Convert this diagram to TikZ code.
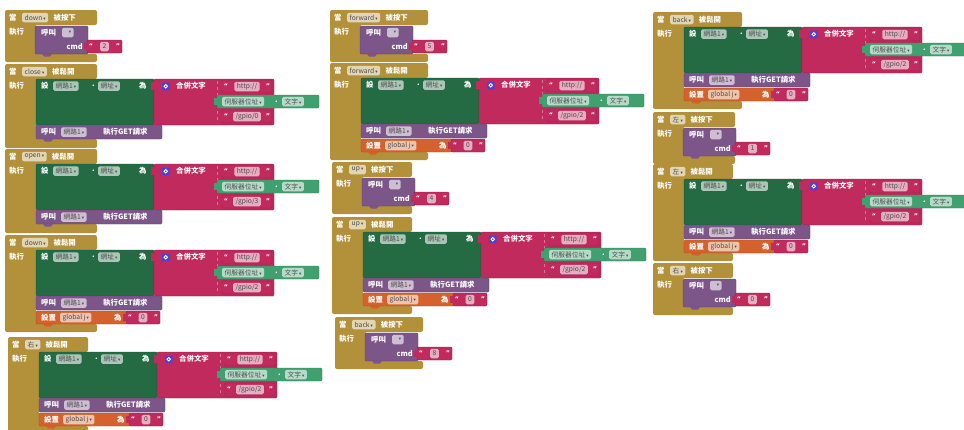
\documentclass[tikz,border=0pt]{standalone}
\usepackage{fontspec}
\setmainfont{Noto Sans CJK TC}
\newfontfamily\symfont{DejaVu Sans}

\definecolor{evgold}{HTML}{B3913A}
\definecolor{callpurple}{HTML}{7C5589}
\definecolor{setgreen}{HTML}{246A43}
\definecolor{getgreen}{HTML}{41A06F}
\definecolor{txtpink}{HTML}{C02A5C}
\definecolor{varorange}{HTML}{D5622C}
\definecolor{gearblue}{HTML}{4F3FD6}

\tikzset{
  blk/.style={fill=#1, draw=#1!78!black, line width=0.3pt, rounded corners=1.2pt},
  lbl/.style={text=white, font=\fontsize{7.4}{8}\selectfont\bfseries, inner sep=0pt, anchor=west},
  ddnode/.style={fill=white, fill opacity=0.62, text opacity=1, text=black!70,
     font=\fontsize{6.7}{7}\selectfont, inner xsep=2.5pt, inner ysep=0pt, minimum height=9.5pt,
     rounded corners=1.5pt, anchor=west},
  quote/.style={text=white, font=\symfont\fontsize{6.5}{7}\selectfont\bfseries, inner sep=0pt},
}

\newcommand{\arrowdn}{\,{\symfont\fontsize{4.5}{5}\selectfont ▾}}
% dropdown field: name, x, y (centre line), text
\newcommand{\dropfield}[4]{\node[ddnode] (#1) at (#2,#3) {#4\arrowdn};}
% text literal: name, x, y (top), width, text
\newcommand{\textlit}[5]{%
  \fill[blk=txtpink] (#2,#3) rectangle ++(#4,13);
  \fill[txtpink] ({#2-3},{#3+3}) rectangle ++(4,7);
  \node[quote] (#1-l) at ({#2+4},{#3+6.5}) {“};
  \node[quote] (#1-r) at ({#2+#4-4},{#3+6.5}) {”};
  \node[ddnode, anchor=center, minimum height=9.5pt] (#1) at ({#2+#4/2},{#3+6.5}) {#5};}
% connector tab under a statement block: x, y (bottom), colour
\newcommand{\stmttab}[3]{\fill[#3] ({#1+7},#2) -- ++(2,2.5) -- ++(6,0) -- ++(2,-2.5) -- cycle;}

% "pressed" handler: name, x, y, gold width, button, cmd value
\newcommand{\pressblk}[6]{%
\begin{scope}[shift={(#2,#3)}]
  \fill[evgold, rounded corners=2pt] (0,0) -- (#4,0) -- (#4,15) -- (30,15) -- (30,44)
     -- (#4,44) -- (#4,52) -- (0,52) -- cycle;
  \node[lbl] (#1-when) at (4,7.5) {當};
  \dropfield{#1-btn}{17}{7.5}{#5}
  \node[lbl, xshift=5pt] (#1-ev) at (#1-btn.east) {被按下};
  \node[lbl] (#1-do) at (4,22) {執行};
  \fill[blk=callpurple] (30,16) rectangle (83,44);
  \stmttab{30}{44}{callpurple}
  \node[lbl] (#1-call) at (36,22.5) {呼叫};
  \dropfield{#1-proc}{57}{22.5}{\hspace{3pt}}
  \node[lbl, anchor=east] (#1-arg) at (78,37) {cmd};
  \textlit{#1-val}{82}{30}{35}{#6}
\end{scope}}

% "released" handler: name, x, y, gold width, button, gpio path, with-variable flag
\newcommand{\relblk}[7]{%
\begin{scope}[shift={(#2,#3)}]
  \ifnum#7=1
    \fill[evgold, rounded corners=2pt] (0,0) -- (#4,0) -- (#4,15) -- (31,15) -- (31,89)
       -- (#4,89) -- (#4,97) -- (0,97) -- cycle;
  \else
    \fill[evgold, rounded corners=2pt] (0,0) -- (#4,0) -- (#4,15) -- (31,15) -- (31,75)
       -- (#4,75) -- (#4,84) -- (0,84) -- cycle;
  \fi
  \node[lbl] (#1-when) at (4,7.5) {當};
  \dropfield{#1-btn}{17}{7.5}{#5}
  \node[lbl, xshift=5pt] (#1-ev) at (#1-btn.east) {被鬆開};
  \node[lbl] (#1-do) at (4,22) {執行};
  % set Web1.Url
  \fill[blk=setgreen] (31,15) rectangle (149,61);
  \node[lbl] (#1-set) at (36,22) {設};
  \dropfield{#1-web}{48}{22}{網路1}
  \node[lbl] (#1-dot) at (87,22) {.};
  \dropfield{#1-url}{93}{22}{網址}
  \node[lbl] (#1-to) at (134,22) {為};
  % join
  \fill[blk=txtpink] (149,15) rectangle (269,61);
  \fill[txtpink] (146,18) rectangle (150,26);
  \fill[gearblue, rounded corners=0.8pt] (157,18.5) rectangle ++(7.5,7.5);
  \draw[white, line width=0.8pt] (160.75,22.25) circle (1.8pt);
  \node[lbl] (#1-join) at (171,22) {合併文字};
  \draw[white, opacity=0.35, dashed, line width=0.4pt] (212,17) -- (212,59);
  \textlit{#1-http}{217}{16}{50}{http://}
  % TextBox.Text getter
  \fill[blk=getgreen] (212,31) rectangle (314,44);
  \fill[getgreen] (209,34) rectangle (213,41);
  \dropfield{#1-box}{217}{37.5}{伺服器位址}
  \node[lbl] (#1-dot2) at (270,37.5) {.};
  \dropfield{#1-txt}{277}{37.5}{文字}
  \textlit{#1-gpio}{217}{46}{50}{#6}
  % Web1.Get
  \fill[blk=callpurple] (31,61) rectangle (157,75);
  \node[lbl] (#1-call) at (36,68) {呼叫};
  \dropfield{#1-web2}{56}{68}{網路1}
  \node[lbl] (#1-get) at (98,68) {執行GET請求};
  \ifnum#7=1
    \stmttab{31}{89}{varorange}
    \fill[blk=varorange] (31,76) rectangle (122,89);
    \node[lbl] (#1-setv) at (36,82.5) {設置};
    \dropfield{#1-var}{55}{82.5}{global j}
    \node[lbl] (#1-to2) at (109,82.5) {為};
    \textlit{#1-val}{121}{76}{34}{0}
  \else
    \stmttab{31}{75}{callpurple}
  \fi
\end{scope}}

\begin{document}
\begin{tikzpicture}[x=1pt,y=-1pt]
  \useasboundingbox (0,0) rectangle (964,429);
  \clip (0,0) rectangle (964,429);
  \fill[white] (0,0) rectangle (964,429);

  % left column
  \pressblk{dnP}{5}{10}{92}{down}{2}
  \relblk{clR}{5}{64}{92}{close}{/gpio/0}{0}
  \relblk{opR}{5}{149}{92}{open}{/gpio/3}{0}
  \relblk{dnR}{5}{235}{92}{down}{/gpio/2}{1}
  \relblk{rtR}{8}{337}{80}{右}{/gpio/2}{1}

  % middle column
  \pressblk{fwP}{330}{10}{98}{forward}{5}
  \relblk{fwR}{330}{63}{98}{forward}{/gpio/2}{1}
  \pressblk{upP}{332}{162}{80}{up}{4}
  \relblk{upR}{332}{217}{80}{up}{/gpio/2}{1}
  \pressblk{bkP}{335}{317}{88}{back}{8}

  % right column
  \relblk{bkR}{653}{12}{89}{back}{/gpio/2}{1}
  \pressblk{ltP}{653}{112}{82}{左}{1}
  \relblk{ltR}{653}{164}{80}{左}{/gpio/2}{1}
  \pressblk{rtP}{653}{263}{80}{右}{0}
\end{tikzpicture}
\end{document}
